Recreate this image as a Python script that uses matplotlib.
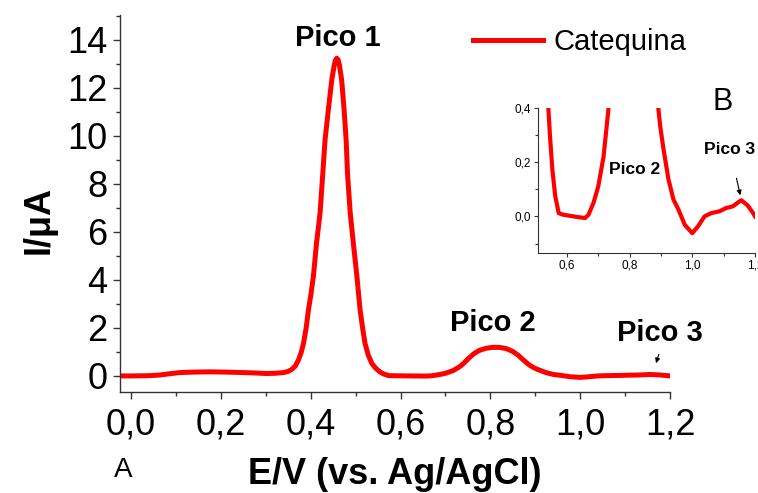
import numpy as np
import matplotlib
matplotlib.use("Agg")
import matplotlib.pyplot as plt
from matplotlib.ticker import MultipleLocator

plt.rcParams['font.family'] = ['Liberation Sans', 'DejaVu Sans']

potencial = [-0.024, 0.000, 0.040, 0.065, 0.090, 0.110, 0.140, 0.176, 0.210, 0.250,
             0.280, 0.300, 0.320, 0.340, 0.350, 0.358, 0.366, 0.373, 0.379, 0.384,
             0.390, 0.395, 0.401, 0.406, 0.413, 0.421, 0.427, 0.432, 0.440, 0.447,
             0.452, 0.455, 0.458, 0.461, 0.464, 0.469, 0.474, 0.479, 0.482, 0.488,
             0.495, 0.503, 0.510, 0.516, 0.521, 0.528, 0.536, 0.541, 0.546, 0.554,
             0.563, 0.574, 0.589, 0.611, 0.632, 0.658, 0.669, 0.685, 0.700, 0.717,
             0.733, 0.742, 0.752, 0.763, 0.775, 0.790, 0.805, 0.820, 0.835, 0.850,
             0.862, 0.875, 0.887, 0.898, 0.908, 0.924, 0.940, 0.956, 0.976, 1.000,
             1.018, 1.039, 1.060, 1.087, 1.108, 1.129, 1.156, 1.177, 1.194, 1.200]
corrente = [0.00, 0.00, 0.01, 0.04, 0.10, 0.14, 0.16, 0.17, 0.16, 0.14,
            0.12, 0.10, 0.11, 0.14, 0.19, 0.27, 0.42, 0.67, 0.98, 1.36,
            2.00, 2.75, 3.45, 4.14, 5.53, 6.80, 8.44, 9.83, 11.20, 12.33,
            12.90, 13.15, 13.24, 13.18, 12.95, 12.33, 11.20, 9.83, 8.44, 6.80,
            5.53, 4.14, 2.75, 1.95, 1.36, 0.88, 0.53, 0.40, 0.30, 0.17,
            0.075, 0.012, 0.006, 0.002, -0.002, -0.006, 0.006, 0.05, 0.11, 0.22,
            0.40, 0.55, 0.74, 0.92, 1.06, 1.15, 1.19, 1.19, 1.14, 1.02,
            0.86, 0.64, 0.45, 0.33, 0.25, 0.137, 0.062, 0.025, -0.031, -0.062,
            -0.037, 0.000, 0.012, 0.019, 0.031, 0.037, 0.060, 0.040, 0.012, 0.000]

cor = '#ff0000'
eixo = '#333333'


def virgula(v, p):
    return f'{v:.1f}'.replace('.', ',').replace('-0,0', '0,0')


fig = plt.figure(figsize=(7.58, 4.93), dpi=100)
ax = fig.add_axes([120/758, 1-392/493, 550/758, 377/493])
ax.plot(potencial, corrente, color=cor, lw=3.6, solid_joinstyle='round', label='Catequina')
ax.set_xlim(-0.0245, 1.2)
ax.set_ylim(-0.67, 15.04)
ax.xaxis.set_major_locator(MultipleLocator(0.2))
ax.xaxis.set_minor_locator(MultipleLocator(0.1))
ax.yaxis.set_major_locator(MultipleLocator(2))
ax.yaxis.set_minor_locator(MultipleLocator(1))
ax.xaxis.set_major_formatter(virgula)
for s in ['top', 'right']:
    ax.spines[s].set_visible(False)
for s in ['left', 'bottom']:
    ax.spines[s].set_color(eixo)
    ax.spines[s].set_linewidth(1.0)
ax.tick_params(which='major', length=5, width=1.0, color=eixo, labelsize=26, pad=4)
ax.tick_params(which='minor', length=3, width=1.0, color=eixo)
ax.tick_params(axis='x', which='major', pad=6)

ax.set_xlabel('E/V (vs. Ag/AgCl)', fontsize=26, fontweight='bold')
ax.xaxis.set_label_coords(0.5, -0.172)
ax.xaxis.label.set_va('top')
ax.set_ylabel('I/μA', fontsize=26, fontweight='bold')
ax.yaxis.set_label_coords(-0.116, 0.456)

ax.text(0.461, 14.1, 'Pico 1', fontsize=21, fontweight='bold', ha='center', va='center')
ax.text(0.806, 2.2, 'Pico 2', fontsize=21, fontweight='bold', ha='center', va='center')
ax.text(1.178, 1.79, 'Pico 3', fontsize=21, fontweight='bold', ha='center', va='center')
ax.annotate('', xy=(1.167, 0.42), xytext=(1.177, 1.01),
            arrowprops=dict(arrowstyle='-|>', color='black', lw=0.8, mutation_scale=7))

ax.legend(loc='center left', bbox_to_anchor=(473/758, 1-42/493), bbox_transform=fig.transFigure,
          frameon=False, fontsize=21, handlelength=2.4, handletextpad=0.35,
          borderpad=0, borderaxespad=0)

fig.text(123.5/758, 1-470/493, 'A', fontsize=20, ha='center', va='center')
fig.text(723/758, 1-102/493, 'B', fontsize=22, ha='center', va='center')

# inset ampliado
axi = fig.add_axes([538/758, 1-253/493, 217/758, 145/493])
axi.plot(potencial, corrente, color=cor, lw=3.0, solid_joinstyle='round')
axi.set_xlim(0.508, 1.2)
axi.set_ylim(-0.135, 0.4)
axi.xaxis.set_major_locator(MultipleLocator(0.2))
axi.xaxis.set_minor_locator(MultipleLocator(0.1))
axi.yaxis.set_major_locator(MultipleLocator(0.2))
axi.yaxis.set_minor_locator(MultipleLocator(0.1))
axi.xaxis.set_major_formatter(virgula)
axi.yaxis.set_major_formatter(virgula)
for s in ['top', 'right']:
    axi.spines[s].set_visible(False)
for s in ['left', 'bottom']:
    axi.spines[s].set_color(eixo)
    axi.spines[s].set_linewidth(0.8)
axi.tick_params(which='major', length=3, width=0.8, color=eixo, labelsize=8.5, pad=2)
axi.tick_params(which='minor', length=2, width=0.8, color=eixo)
axi.patch.set_alpha(0)

axi.text(0.816, 0.173, 'Pico 2', fontsize=12.5, fontweight='bold', ha='center', va='center')
axi.text(1.118, 0.247, 'Pico 3', fontsize=12.5, fontweight='bold', ha='center', va='center',
         clip_on=False)
axi.annotate('', xy=(1.155, 0.068), xytext=(1.139, 0.151),
             arrowprops=dict(arrowstyle='-|>', color='black', lw=0.8, mutation_scale=7))

fig.savefig('out.png', dpi=100)
